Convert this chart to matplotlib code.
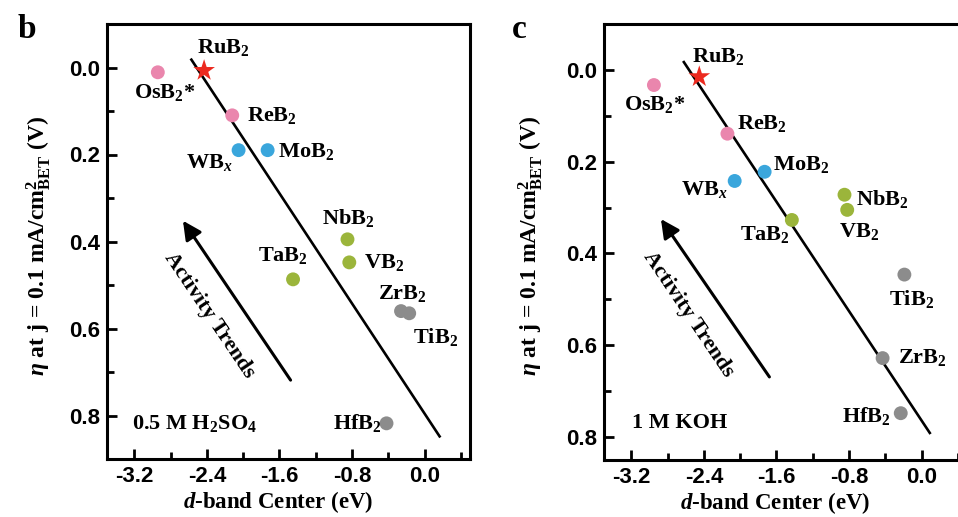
import matplotlib
matplotlib.use('Agg')
import matplotlib.pyplot as plt
from matplotlib.ticker import MultipleLocator

plt.rcParams['font.family'] = ['Liberation Serif', 'DejaVu Serif']
plt.rcParams['font.weight'] = 'bold'
plt.rcParams['mathtext.fontset'] = 'custom'
plt.rcParams['mathtext.rm'] = 'Liberation Serif:bold'
plt.rcParams['mathtext.it'] = 'Liberation Serif:italic:bold'
plt.rcParams['mathtext.bf'] = 'Liberation Serif:bold'

# compounds and their d-band centres / overpotentials
names = ['OsB$_2$*', 'RuB$_2$', 'ReB$_2$', 'WB$_x$', 'MoB$_2$', 'NbB$_2$',
         'VB$_2$', 'TaB$_2$', 'ZrB$_2$', 'TiB$_2$', 'HfB$_2$']
groups = ['pink', 'star', 'pink', 'blue', 'blue', 'green',
          'green', 'green', 'gray', 'gray', 'gray']

acid_x = [-2.94, -2.43, -2.12, -2.05, -1.73, -0.85, -0.83, -1.45, -0.26, -0.17, -0.42]
acid_y = [0.011, 0.007, 0.110, 0.190, 0.190, 0.395, 0.448, 0.487, 0.560, 0.565, 0.818]
base_x = [-2.95, -2.45, -2.14, -2.06, -1.73, -0.85, -0.82, -1.43, -0.43, -0.19, -0.23]
base_y = [0.033, 0.015, 0.139, 0.242, 0.222, 0.272, 0.305, 0.327, 0.628, 0.446, 0.748]

# linear trend lines (end points)
acid_fit_x = [-2.57, 0.165]
acid_fit_y = [-0.018, 0.848]
base_fit_x = [-2.62, 0.09]
base_fit_y = [-0.017, 0.791]

xtick_labels = ['-3.2', '-2.4', '-1.6', '-0.8', '0.0']
xtick_vals = [-3.2, -2.4, -1.6, -0.8, 0.0]

colors = {'pink': '#ea86ad', 'blue': '#3aa6dc', 'green': '#9bb53b',
          'gray': '#8c8c8c', 'star': '#ec2a1f'}

# label offsets in pixels (dx, dy, ha)
acid_off = [(-24, -20, 'left'), (-7, 23, 'left'), (15, 0, 'left'), (-6, -12, 'right'),
            (10, -1, 'left'), (-25, 21, 'left'), (15, 0, 'left'), (-35, 24, 'left'),
            (-23, 18, 'left'), (4, -24, 'left'), (-5, 0, 'right')]
base_off = [(-30, -19, 'left'), (-7, 20, 'left'), (10, 10, 'left'), (-7, -9, 'right'),
            (8, 7, 'left'), (12, -4, 'left'), (-8, -22, 'left'), (-52, -15, 'left'),
            (15, 1, 'left'), (-15, -24, 'left'), (-10, -3, 'right')]

W, H = 958, 517
fig = plt.figure(figsize=(W / 100, H / 100), dpi=100)
ax1 = fig.add_axes([107 / W, 1 - 459 / H, 363 / W, 435 / H])
ax2 = fig.add_axes([604 / W, 1 - 460 / H, 363 / W, 436 / H])


def panel(ax, xs, ys, fx, fy, offs, ylim, arrow, medium, medium_xy, ylab_x):
    ax.plot(fx, fy, color='k', lw=1.9, zorder=2)
    for i, n in enumerate(names):
        g = groups[i]
        if g == 'star':
            ax.scatter(xs[i], ys[i], marker='*', s=270, color=colors[g], zorder=3,
                       edgecolors='none')
        else:
            ax.scatter(xs[i], ys[i], marker='o', s=100, color=colors[g], zorder=3,
                       edgecolors='none')
        dx, dy, ha = offs[i]
        ax.annotate(n, (xs[i], ys[i]), xytext=(dx, dy), textcoords='offset pixels',
                    ha=ha, va='center', fontsize=16, fontweight='bold')
    # activity trends arrow
    (tx, ty), (hx, hy) = arrow
    ax.annotate('', xy=(hx, hy), xytext=(tx, ty),
                arrowprops=dict(arrowstyle='-|>', color='k', lw=2.2, mutation_scale=28))
    ax.text((tx + hx) / 2 - 0.3, (ty + hy) / 2 + 0.035, 'Activity Trends',
            rotation=-56, rotation_mode='anchor', ha='center', va='center',
            fontsize=16, fontweight='bold')
    ax.text(medium_xy[0], medium_xy[1], medium, ha='left', va='center',
            fontsize=16, fontweight='bold')

    ax.set_xlim(-3.5, 0.5)
    ax.set_ylim(*ylim)
    ax.set_xticks(xtick_vals)
    ax.set_xticklabels(xtick_labels)
    ax.xaxis.set_minor_locator(MultipleLocator(0.4))
    ax.set_xlim(-3.5, 0.5)
    ax.yaxis.set_major_locator(MultipleLocator(0.2))
    ax.yaxis.set_minor_locator(MultipleLocator(0.1))
    ax.tick_params(which='both', direction='in', top=False, right=False, width=2)
    ax.tick_params(which='major', length=7, pad=5)
    ax.tick_params(which='minor', length=5)
    for sp in ax.spines.values():
        sp.set_linewidth(2.2)
    for lab in ax.get_xticklabels() + ax.get_yticklabels():
        lab.set_fontfamily('Liberation Sans')
        lab.set_fontweight('bold')
        lab.set_fontsize(16)
    ax.set_xlabel('$d$-band Center (eV)', fontsize=16.5, fontweight='bold')
    ax.xaxis.label.set_va('baseline')
    ax.set_ylabel(r'$\eta$ at j = 0.1 mA/cm$^2_{\rm BET}$ (V)', fontsize=17,
                  fontweight='bold')
    ax.xaxis.set_label_coords(0.47, -0.112)
    ax.yaxis.set_label_coords(ylab_x, 0.49)


panel(ax1, acid_x, acid_y, acid_fit_x, acid_fit_y, acid_off, (0.9, -0.1),
      ((-1.46, 0.724), (-2.68, 0.347)), '0.5 M H$_2$SO$_4$', (-3.22, 0.818), -0.15)
panel(ax2, base_x, base_y, base_fit_x, base_fit_y, base_off, (0.85, -0.1),
      ((-1.66, 0.674), (-2.89, 0.32)), '1 M KOH', (-3.19, 0.77), -0.162)

fig.text(18 / W, 1 - 38 / H, 'b', fontsize=24, fontweight='bold', va='baseline')
fig.text(512 / W, 1 - 38 / H, 'c', fontsize=24, fontweight='bold', va='baseline')

fig.savefig('out.png', dpi=100)
